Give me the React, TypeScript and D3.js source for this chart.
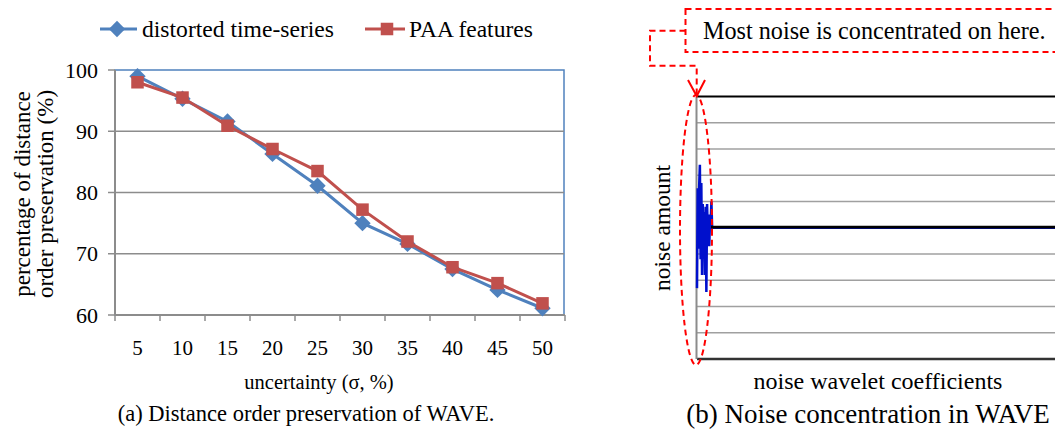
import * as d3 from "d3";

// left chart: distance order preservation
const sigmaLabels = ["5", "10", "15", "20", "25", "30", "35", "40", "45", "50"];
const distortedSeries = [99.0, 95.3, 91.6, 86.3, 81.1, 75.0, 71.6, 67.5, 64.1, 61.1];
const paaSeries = [98.0, 95.5, 90.9, 87.1, 83.5, 77.2, 72.0, 67.8, 65.2, 61.9];
const yTicks = [60, 70, 80, 90, 100];

// right chart: noise wavelet coefficients (index, amount)
const noiseIndex = [0, 1, 2, 3, 4, 5, 6, 7, 8, 9, 10, 11, 12, 13, 14, 15, 16, 17, 18, 19, 20, 21, 511];
const noiseAmount = [-2.3, 1.5, -0.8, 1.6, 2.4, -1.2, 1.7, -1.8, 0.9, -0.6, 0.6, -1.8, 0.8, -2.45, 0.9, -0.3, 0.5, -0.7, 0.3, 0.2, 1.0, 0.0, 0.0];
const noiseGrid = [-5, -4, -3, -2, -1, 0, 1, 2, 3, 4, 5];

const font = "'Liberation Serif', 'Times New Roman', serif";
const BLUE = "#4F81BD";
const RED = "#C0504D";
const GRID = "#8C8C8C";

function LeftChart() {
  const x = d3.scaleBand().domain(sigmaLabels).range([115, 565]).padding(0);
  const y = d3.scaleLinear().domain([60, 100]).range([315, 70]);
  const cx = (d: string) => (x(d) as number) + x.bandwidth() / 2;

  const line = d3.line<number>()
    .x((_, i) => cx(sigmaLabels[i]))
    .y((d) => y(d));

  const diamond = d3.symbol().type(d3.symbolDiamond2).size(170)();
  const square = d3.symbol().type(d3.symbolSquare2).size(200)();

  return (
    <g fontFamily={font} fill="#000">
      {/* legend */}
      <line x1={100} x2={137} y1={29} y2={29} stroke={BLUE} strokeWidth={3} />
      <path d={diamond as string} transform="translate(117,29)" fill={BLUE} />
      <text x={142} y={37} fontSize={23.6}>distorted time-series</text>
      <line x1={365} x2={405} y1={29} y2={29} stroke={RED} strokeWidth={3} />
      <path d={square as string} transform="translate(387,29)" fill={RED} />
      <text x={409} y={37} fontSize={23.5}>PAA features</text>

      {/* plot border */}
      <rect x={115} y={y(100)} width={449} height={y(60) - y(100)} fill="none" stroke={BLUE} strokeWidth={1.5} />
      {yTicks.filter((t) => t !== 100 && t !== 60).map((t) => (
        <line key={t} x1={115} x2={564} y1={y(t)} y2={y(t)} stroke={GRID} strokeWidth={1.5} />
      ))}
      {/* axes */}
      <line x1={115} x2={115} y1={y(100)} y2={y(60)} stroke={GRID} strokeWidth={2} />
      <line x1={115} x2={565} y1={y(60)} y2={y(60)} stroke={GRID} strokeWidth={2} />
      {yTicks.map((t) => (
        <g key={t}>
          <line x1={108} x2={115} y1={y(t)} y2={y(t)} stroke={GRID} strokeWidth={1.5} />
          <text x={98} y={y(t)} dy="0.35em" textAnchor="end" fontSize={22}>{t}</text>
        </g>
      ))}
      {sigmaLabels.map((s) => (
        <g key={s}>
          <line x1={x(s) as number} x2={x(s) as number} y1={y(60)} y2={y(60) + 6} stroke={GRID} strokeWidth={1.5} />
          <text x={cx(s)} y={355} textAnchor="middle" fontSize={21}>{s}</text>
        </g>
      ))}
      <line x1={565} x2={565} y1={y(60)} y2={y(60) + 6} stroke={GRID} strokeWidth={1.5} />

      {/* series */}
      <path d={line(distortedSeries) as string} fill="none" stroke={BLUE} strokeWidth={3} />
      {distortedSeries.map((v, i) => (
        <path key={i} d={diamond as string} transform={`translate(${cx(sigmaLabels[i])},${y(v)})`} fill={BLUE} />
      ))}
      <path d={line(paaSeries) as string} fill="none" stroke={RED} strokeWidth={3} />
      {paaSeries.map((v, i) => (
        <path key={i} d={square as string} transform={`translate(${cx(sigmaLabels[i])},${y(v)})`} fill={RED} />
      ))}

      {/* titles */}
      <g transform="translate(30,194) rotate(-90)">
        <text textAnchor="middle" fontSize={23}>percentage of distance</text>
      </g>
      <g transform="translate(53,194) rotate(-90)">
        <text textAnchor="middle" fontSize={23}>order preservation (%)</text>
      </g>
      <text x={319} y={389} textAnchor="middle" fontSize={20.5}>uncertainty (σ, %)</text>
      <text x={306} y={421} textAnchor="middle" fontSize={22.5}>(a)  Distance order preservation of WAVE.</text>
    </g>
  );
}

function RightChart() {
  const x = d3.scaleLinear().domain([0, 511]).range([697, 1065]);
  const y = d3.scaleLinear().domain([-5, 5]).range([359, 96.5]);
  const pts = noiseIndex.map((d, i) => [d, noiseAmount[i]] as [number, number]);
  const line = d3.line<[number, number]>().x((d) => x(d[0])).y((d) => y(d[1]));

  // ellipse around the first coefficients
  const ell = { cx: 696, cy: 230, rx: 16, ry: 135 };
  const red = "#FF0000";

  return (
    <g fontFamily={font} fill="#000">
      {noiseGrid.map((t) => (
        <line key={t} x1={697} x2={1065} y1={y(t)} y2={y(t)}
          stroke={t === 5 ? "#000" : t === -5 ? "#333" : "#A0A0A0"}
          strokeWidth={t === -5 ? 2.5 : t === 5 ? 1.8 : 1.5} />
      ))}
      <line x1={696.5} x2={696.5} y1={y(5)} y2={y(-5)} stroke={GRID} strokeWidth={2} />
      <path d={line(pts) as string} fill="none" stroke="#0010CC" strokeWidth={2.5} strokeLinejoin="miter" />
      <line x1={711} x2={1065} y1={y(0) - 0.6} y2={y(0) - 0.6} stroke="#000" strokeWidth={2.6} />

      <g transform="translate(670,228) rotate(-90)">
        <text textAnchor="middle" fontSize={23.5}>noise amount</text>
      </g>
      <text x={878} y={389} textAnchor="middle" fontSize={24}>noise wavelet coefficients</text>
      <text x={868} y={423} textAnchor="middle" fontSize={27}>(b)  Noise concentration in WAVE</text>

      {/* annotation */}
      <rect x={685.5} y={9} width={400} height={43} fill="#fff" stroke={red} strokeWidth={2} strokeDasharray="6,4" />
      <text x={703} y={39} fontSize={24.2}>Most noise is concentrated on here.</text>
      <path d="M685.5,30.7 H650 V65.7 H696.7 V95" fill="none" stroke={red} strokeWidth={2} strokeDasharray="6,4" />
      <path d="M688,80 L696.7,96 L705,80" fill="none" stroke={red} strokeWidth={2} />
      <ellipse cx={ell.cx} cy={ell.cy} rx={ell.rx} ry={ell.ry} fill="none" stroke={red} strokeWidth={2} strokeDasharray="6,4" />
    </g>
  );
}

export default function App() {
  return (
    <div style={{ position: "absolute", left: 0, top: 0 }}>
      <svg width={1055} height={436} style={{ display: "block", background: "#fff" }}>
        <LeftChart />
        <RightChart />
      </svg>
    </div>
  );
}
